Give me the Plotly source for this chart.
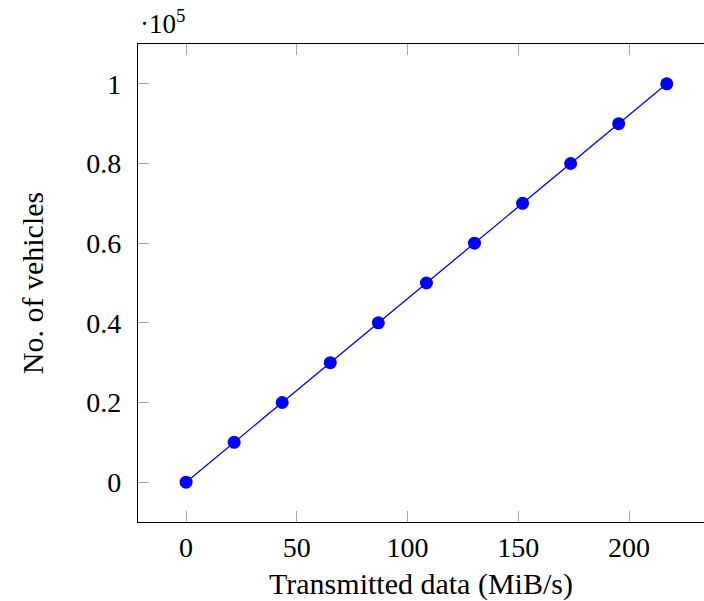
import plotly.graph_objects as go

transmitted = [0, 21.7, 43.4, 65.1, 86.8, 108.5, 130.2, 151.9, 173.6, 195.3, 217]
vehicles = [0, 10000, 20000, 30000, 40000, 50000, 60000, 70000, 80000, 90000, 100000]

x_ticks = [0, 50, 100, 150, 200]
y_ticks = [0, 20000, 40000, 60000, 80000, 100000]
y_tick_labels = ["0", "0.2", "0.4", "0.6", "0.8", "1"]

FONT = "Liberation Serif"

fig = go.Figure()
fig.add_trace(go.Scatter(
    x=transmitted, y=vehicles, mode="lines+markers",
    line=dict(color="#0000ff", width=1.3),
    marker=dict(color="#0000ff", size=13),
    showlegend=False,
))

fig.update_layout(
    width=704, height=601,
    margin=dict(l=138, r=0, t=44, b=79),
    paper_bgcolor="white", plot_bgcolor="white",
    font=dict(family=FONT, size=28, color="black"),
    xaxis=dict(
        range=[-21.7, 233.8], automargin=False,
        tickvals=x_ticks, ticktext=[str(v) for v in x_ticks],
        ticks="inside", ticklen=11, tickwidth=1, tickcolor="#a8a8a8",
        showline=True, linecolor="black", linewidth=1.3, mirror="ticks",
        showgrid=False, zeroline=False,
        title=dict(text="Transmitted data (MiB/s)", font=dict(family=FONT, size=30), standoff=15),
        ticklabelstandoff=0,
    ),
    yaxis=dict(
        range=[-10000, 110000], automargin=False,
        tickvals=y_ticks, ticktext=y_tick_labels,
        ticks="inside", ticklen=11, tickwidth=1, tickcolor="#a8a8a8",
        showline=True, linecolor="black", linewidth=1.3,
        showgrid=False, zeroline=False,
        title=dict(text="No. of vehicles", font=dict(family=FONT, size=30), standoff=33),
        ticklabelstandoff=10,
    ),
    annotations=[dict(
        text="·10<sup>5</sup>", xref="paper", yref="paper", x=0, y=1,
        xanchor="left", yanchor="bottom", showarrow=False,
        font=dict(family=FONT, size=27), yshift=3,
    )],
)

fig.write_html(
    "out.html",
    config={"displayModeBar": False},
    post_script="document.body.style.margin='0';document.body.style.overflow='hidden';",
)
